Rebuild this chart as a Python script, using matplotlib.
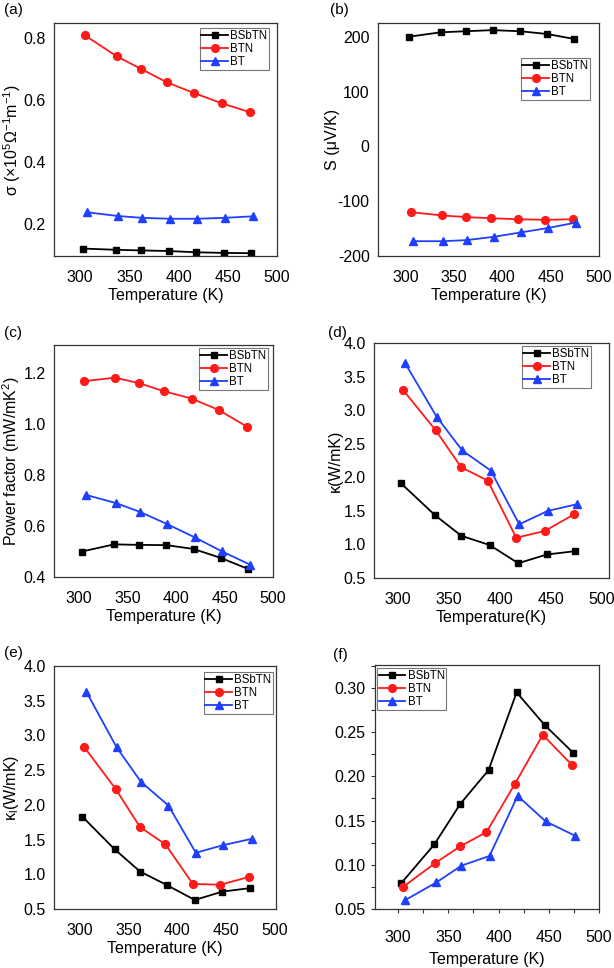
"""
Thermoelectric properties of BSbTN, BTN and BT vs temperature,
six panels (a)-(f) laid out on a 614x968 px canvas.
"""

import matplotlib
matplotlib.use("Agg")
import matplotlib.pyplot as plt
from matplotlib.ticker import MultipleLocator, FormatStrFormatter

plt.rcParams["font.family"] = ["Liberation Sans", "DejaVu Sans"]
plt.rcParams["mathtext.fontset"] = "custom"
plt.rcParams["mathtext.rm"] = "Liberation Sans"
plt.rcParams["mathtext.it"] = "Liberation Sans:italic"
plt.rcParams["font.size"] = 11

# ---- data --------------------------------------------------------------
names = ["BSbTN", "BTN", "BT"]
T_bsbtn = [303, 336, 362, 390, 418, 446, 474]
T_btn = [305, 337, 362, 388, 416, 444, 473]
T_bt = [307, 338, 363, 391, 419, 447, 476]

sigma_bsbtn = [0.121, 0.117, 0.115, 0.113, 0.109, 0.107, 0.106]
sigma_btn = [0.808, 0.741, 0.700, 0.657, 0.622, 0.589, 0.560]
sigma_bt = [0.238, 0.226, 0.220, 0.217, 0.217, 0.220, 0.225]

S_bsbtn = [200, 208, 210, 212, 210, 205, 196]
S_btn = [-120, -126, -129, -131, -133, -134, -133]
S_bt = [-173, -173, -171, -165, -157, -149, -139]

pf_bsbtn = [0.500, 0.528, 0.526, 0.525, 0.510, 0.475, 0.432]
pf_btn = [1.168, 1.182, 1.160, 1.128, 1.100, 1.055, 0.990]
pf_bt = [0.722, 0.690, 0.655, 0.607, 0.556, 0.501, 0.449]

k_bsbtn = [1.91, 1.44, 1.13, 0.99, 0.72, 0.85, 0.90]
k_btn = [3.30, 2.70, 2.15, 1.95, 1.10, 1.20, 1.45]
k_bt = [3.70, 2.90, 2.40, 2.10, 1.30, 1.50, 1.60]

kl_bsbtn = [1.83, 1.36, 1.04, 0.84, 0.63, 0.75, 0.80]
kl_btn = [2.83, 2.23, 1.68, 1.43, 0.86, 0.85, 0.96]
kl_bt = [3.63, 2.83, 2.33, 1.99, 1.31, 1.42, 1.51]

zt_bsbtn = [0.079, 0.123, 0.169, 0.207, 0.295, 0.258, 0.227]
zt_btn = [0.075, 0.102, 0.121, 0.137, 0.191, 0.247, 0.213]
zt_bt = [0.060, 0.080, 0.099, 0.110, 0.178, 0.149, 0.133]

W, H = 614, 968
COLORS = ["black", "#ff1a1a", "#1f3fff"]
MARKERS = ["s", "o", "^"]
MSIZES = [4.8, 5.6, 6.0]

fig = plt.figure(figsize=(W / 100, H / 100), dpi=100)


def add_panel(l, t, r, b):
    """Axes from pixel box (left, top, right, bottom), origin top-left."""
    return fig.add_axes([l / W, 1 - b / H, (r - l) / W, (b - t) / H])


def draw(ax, box, ys, xlim, ylim, ystep, yfmt, ylabel, xlabel,
         leg_px, leg_loc, tag, tag_px, ticks=False, xpad=10, ypad=6,
         ylpad=1, xlpad=2.5):
    l, t, r, b = box
    for T, y, c, m, ms, n in zip([T_bsbtn, T_btn, T_bt], ys, COLORS,
                                 MARKERS, MSIZES, names):
        ax.plot(T, y, color=c, marker=m, markersize=ms, linewidth=1.3,
                label=n)
    ax.set_xlim(*xlim)
    ax.set_ylim(*ylim)
    ax.xaxis.set_major_locator(MultipleLocator(50))
    ax.yaxis.set_major_locator(MultipleLocator(ystep))
    ax.yaxis.set_major_formatter(FormatStrFormatter(yfmt))
    for s in ax.spines.values():
        s.set_color("#333333")
        s.set_linewidth(0.9)
    ax.tick_params(labelsize=11.5)
    if ticks:
        ax.xaxis.set_minor_locator(MultipleLocator(25))
        ax.yaxis.set_minor_locator(MultipleLocator(ystep / 2))
        ax.tick_params(which="both", direction="out", length=3,
                       width=0.8, color="#333333", top=False, right=False)
        ax.tick_params(axis="x", which="major", pad=xpad)
        ax.tick_params(axis="y", which="major", pad=ypad)
    else:
        ax.tick_params(length=0)
        ax.tick_params(axis="x", pad=xpad)
        ax.tick_params(axis="y", pad=ypad)
    ax.set_xlabel(xlabel, fontsize=11.5, labelpad=xlpad)
    if ylabel:
        ax.set_ylabel(ylabel, fontsize=11.5, labelpad=ylpad)
    lx, ly = leg_px
    anchor = ((lx - l) / (r - l), (b - ly) / (b - t))
    leg = ax.legend(loc=leg_loc, bbox_to_anchor=anchor, borderaxespad=0,
                    fontsize=8.3, frameon=True, fancybox=False,
                    handlelength=2.3, handletextpad=0.2, labelspacing=0.1,
                    borderpad=0.15)
    leg.get_frame().set_edgecolor("#555555")
    leg.get_frame().set_linewidth(0.8)
    fig.text(tag_px[0] / W, 1 - tag_px[1] / H, tag, fontsize=11,
             ha="left", va="center")


box_a = (54, 23, 277, 256)
draw(add_panel(*box_a), box_a, [sigma_bsbtn, sigma_btn, sigma_bt],
     (273.5, 500), (0.097, 0.848), 0.2, "%.1f",
     r"σ (×10$^{5}$Ω$^{-1}$m$^{-1}$)", "Temperature (K)",
     (269, 28), "upper right", "(a)", (4, 10), ylpad=0)

box_b = (378, 23, 599, 256)
draw(add_panel(*box_b), box_b, [S_bsbtn, S_btn, S_bt],
     (271, 500), (-200, 225), 100, "%d",
     "S (μV/K)", "Temperature (K)",
     (590, 58), "upper right", "(b)", (330, 10), ylpad=-2)

box_c = (54, 345, 273, 577)
draw(add_panel(*box_c), box_c, [pf_bsbtn, pf_btn, pf_bt],
     (274, 500), (0.4, 1.31), 0.2, "%.1f",
     r"Power factor (mW/mK$^{2}$)", "Temperature (K)",
     (268, 348), "upper right", "(c)", (4, 333), ylpad=1)

box_d = (374, 343, 609, 578)
draw(add_panel(*box_d), box_d, [k_bsbtn, k_btn, k_bt],
     (276.5, 507), (0.5, 4.0), 0.5, "%.1f",
     "κ(W/mK)", "Temperature(K)",
     (591, 346), "upper right", "(d)", (328, 333), ylpad=0)

box_e = (54, 666, 276, 909)
draw(add_panel(*box_e), box_e, [kl_bsbtn, kl_btn, kl_bt],
     (274, 501), (0.5, 4.0), 0.5, "%.1f",
     r"κ$_{\rm l}$(W/mK)", "Temperature (K)",
     (273, 672), "upper right", "(e)", (4, 653), ylpad=2)

box_f = (375, 665, 599, 909)
draw(add_panel(*box_f), box_f, [zt_bsbtn, zt_btn, zt_bt],
     (277, 500), (0.05, 0.326), 0.05, "%.2f",
     None, "Temperature (K)",
     (377, 668), "upper left", "(f)", (333, 655), ticks=True, xpad=12,
     ypad=4, xlpad=5)

fig.savefig("out.png", dpi=100)
